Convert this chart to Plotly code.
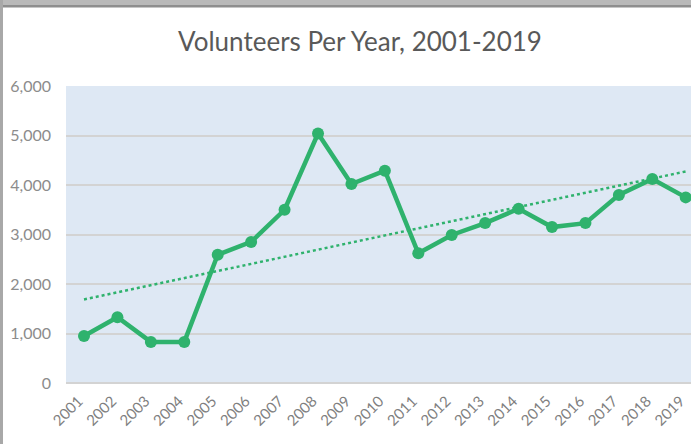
import numpy as np
import plotly.graph_objects as go

years = list(range(2001, 2020))
volunteers = [950, 1330, 830, 830, 2590, 2850, 3500, 5040, 4020, 4290,
              2620, 2990, 3230, 3520, 3150, 3230, 3800, 4120, 3750]
tick_labels = [str(y) for y in years]
y_ticks = [0, 1000, 2000, 3000, 4000, 5000, 6000]

GREEN = "#2FB26D"
W, H = 691, 444
L, R, T, B = 66, 0, 86, 61

# linear trendline (least squares fit of the series)
slope, intercept = np.polyfit(years, volunteers, 1)
trend = [slope * y + intercept for y in years]

fig = go.Figure()
fig.add_trace(go.Scatter(x=years, y=trend, mode="lines",
                         line=dict(color=GREEN, width=2.5, dash="dot"),
                         hoverinfo="skip", showlegend=False))
fig.add_trace(go.Scatter(x=years, y=volunteers, mode="lines+markers",
                         line=dict(color=GREEN, width=4.5),
                         marker=dict(color=GREEN, size=12),
                         showlegend=False))

pw = W - L - R
ph = H - T - B
def px2x(p):
    return (p - L) / pw
def py2y(p):
    return (H - B - p) / ph

shapes = [
    # screenshot window frame: top band and left edge
    dict(type="rect", xref="paper", yref="paper", x0=px2x(0), x1=px2x(W), y0=py2y(5), y1=py2y(0),
         fillcolor="#B9B9B9", line_width=0, layer="above"),
    dict(type="rect", xref="paper", yref="paper", x0=px2x(0), x1=px2x(W), y0=py2y(7.5), y1=py2y(5),
         fillcolor="#8E8E8E", line_width=0, layer="above"),
    dict(type="rect", xref="paper", yref="paper", x0=px2x(0), x1=px2x(3), y0=py2y(H), y1=py2y(0),
         fillcolor="#A8A8A8", line_width=0, layer="above"),
]

fig.update_layout(
    width=W, height=H,
    margin=dict(l=L, r=R, t=T, b=B, autoexpand=False),
    paper_bgcolor="white",
    plot_bgcolor="#DEE8F4",
    font=dict(family="Lato", color="#7F7F7F"),
    title=dict(text="Volunteers Per Year, 2001-2019", xref="container", yref="container",
               x=360 / W, xanchor="center", y=1 - 42 / H, yanchor="middle",
               font=dict(family="Lato", size=26, color="#595959")),
    shapes=shapes,
    xaxis=dict(range=[2001 - 18 / 33.43, 2001 + (W - 84) / 33.43],
               tickvals=years, ticktext=[t + "\u00a0\u00a0" for t in tick_labels], tickangle=-45,
               tickfont=dict(size=15, color="#7F7F7F"),
               showgrid=False, zeroline=False, showline=False, ticks="",
               automargin=False, ticklabelstandoff=0, ticklabeloverflow="allow"),
    yaxis=dict(range=[0, 6000], tickvals=y_ticks, tickformat=",",
               tickfont=dict(size=16, color="#8C8C8C"),
               showgrid=True, gridcolor="#D3D3D3", gridwidth=1.5,
               zeroline=True, zerolinecolor="#D3D3D3", zerolinewidth=1.5,
               ticklabelstandoff=14, ticks="", automargin=False),
)

fig.write_html("out.html", config={"displayModeBar": False},
               post_script="document.body.style.margin='0';document.body.style.overflow='hidden';")
